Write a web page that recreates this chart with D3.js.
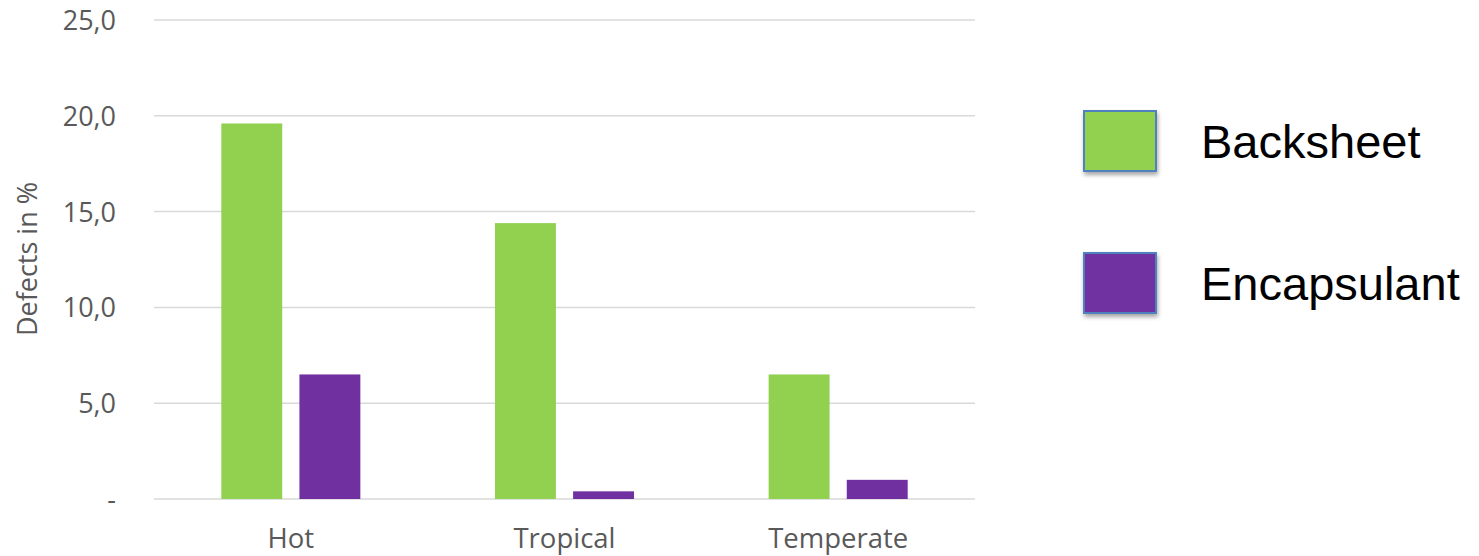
<!DOCTYPE html>
<html>
<head>
    <meta charset="utf-8" />
    <script src="https://d3js.org/d3.v7.min.js"></script>
    <style>
        body { margin: 0; background: #fff; }
        .tick text { font-family: "Open Sans", sans-serif; fill: #595959; }
    </style>
</head>
<body>
    <script>
        var categories = ["Hot", "Tropical", "Temperate"];
        var series = ["Backsheet", "Encapsulant"];
        var backsheet = [19.6, 14.4, 6.5];
        var encapsulant = [6.5, 0.4, 1.0];
        var yTicks = [0, 5, 10, 15, 20, 25];
        var colors = ["#92d050", "#7030a0"];

        var width = 1479,
            height = 556;
        var plot = { left: 154, right: 975, top: 20, bottom: 499 };

        var svg = d3.select("body").append("svg")
            .attr("width", width)
            .attr("height", height);

        var defs = svg.append("defs");
        var shadow = defs.append("filter").attr("id", "shadow")
            .attr("x", "-20%").attr("y", "-20%").attr("width", "150%").attr("height", "150%");
        shadow.append("feDropShadow")
            .attr("dx", 1).attr("dy", 3).attr("stdDeviation", 2)
            .attr("flood-color", "#000").attr("flood-opacity", 0.35);

        var y = d3.scaleLinear().domain([0, 25]).range([plot.bottom, plot.top]);

        var x0 = d3.scaleBand()
            .domain(categories)
            .range([plot.left, plot.right])
            .paddingInner(0.492)
            .paddingOuter(0.246);

        var x1 = d3.scaleBand()
            .domain(series)
            .range([0, x0.bandwidth()])
            .paddingInner(0.22);

        // gridlines
        svg.append("g")
            .selectAll("line")
            .data(yTicks)
            .enter().append("line")
            .attr("x1", plot.left)
            .attr("x2", plot.right)
            .attr("y1", function (d) { return y(d); })
            .attr("y2", function (d) { return y(d); })
            .attr("stroke", "#d9d9d9")
            .attr("stroke-width", 1.5);

        // y axis labels
        var yAxis = d3.axisLeft(y)
            .tickValues(yTicks)
            .tickSize(0)
            .tickPadding(0)
            .tickFormat(function (d) { return d === 0 ? "-" : d3.format(".1f")(d).replace(".", ","); });

        var gy = svg.append("g")
            .attr("transform", "translate(116,0)")
            .call(yAxis);
        gy.select(".domain").remove();
        gy.selectAll("text").attr("font-size", 27).attr("dy", "0.35em");

        // x axis labels
        var xAxis = d3.axisBottom(x0).tickSize(0).tickPadding(0);
        var gx = svg.append("g")
            .attr("transform", "translate(0," + plot.bottom + ")")
            .call(xAxis);
        gx.select(".domain").remove();
        gx.selectAll("text").attr("font-size", 27.5).attr("dy", null).attr("y", 49);

        // y title
        svg.append("text")
            .attr("transform", "translate(37,259) rotate(-90)")
            .attr("text-anchor", "middle")
            .attr("font-family", "Open Sans, sans-serif")
            .attr("font-size", 27)
            .attr("fill", "#595959")
            .text("Defects in %");

        // bars
        var values = [backsheet, encapsulant];
        var groups = svg.append("g")
            .selectAll("g")
            .data(categories)
            .enter().append("g")
            .attr("transform", function (d) { return "translate(" + x0(d) + ",0)"; });

        groups.selectAll("rect")
            .data(function (d, i) { return series.map(function (s, j) { return { s: s, v: values[j][i], c: colors[j] }; }); })
            .enter().append("rect")
            .attr("x", function (d) { return x1(d.s); })
            .attr("width", x1.bandwidth())
            .attr("y", function (d) { return y(d.v); })
            .attr("height", function (d) { return y(0) - y(d.v); })
            .attr("fill", function (d) { return d.c; });

        // legend
        var legendY = d3.scalePoint().domain(series).range([141, 283]);
        var legend = svg.append("g")
            .selectAll("g")
            .data(series)
            .enter().append("g")
            .attr("transform", function (d) { return "translate(1084," + legendY(d) + ")"; });

        legend.append("rect")
            .attr("x", 0)
            .attr("y", -30)
            .attr("width", 72)
            .attr("height", 60)
            .attr("fill", function (d, i) { return colors[i]; })
            .attr("stroke", "#4f81bd")
            .attr("stroke-width", 2)
            .attr("filter", "url(#shadow)");

        legend.append("text")
            .attr("x", 117)
            .attr("y", 17)
            .attr("font-family", "Liberation Sans, Arial, sans-serif")
            .attr("font-size", 47)
            .attr("fill", "#000")
            .text(function (d) { return d; });
    </script>
</body>
</html>
